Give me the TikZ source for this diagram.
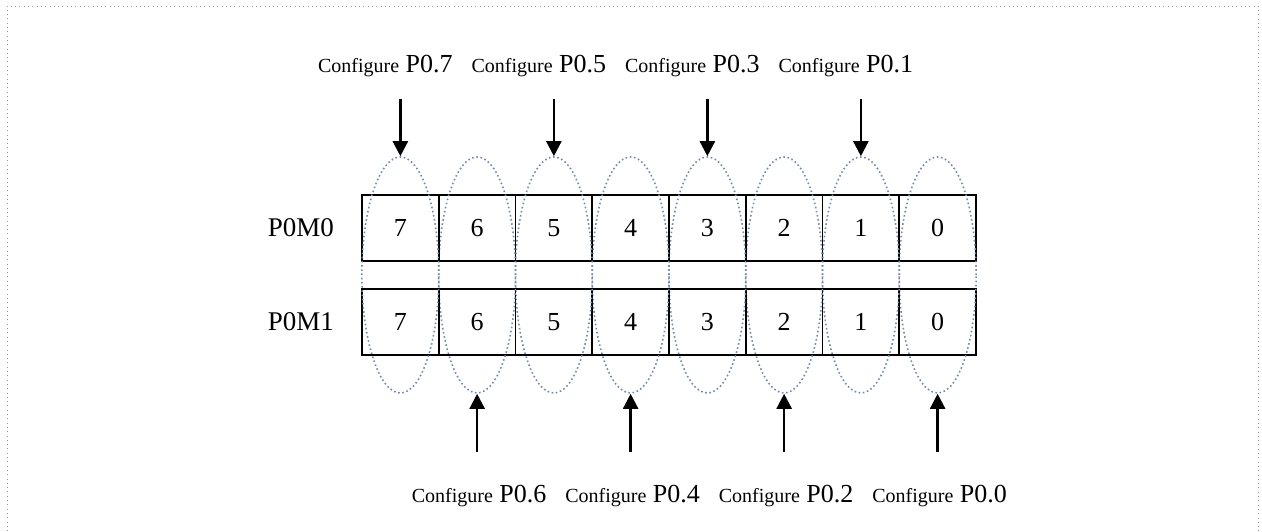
\documentclass[tikz,border=0pt]{standalone}
\usepackage{fontspec}
\setmainfont{Liberation Serif}
\usetikzlibrary{positioning, calc, shapes.geometric, arrows.meta}
\definecolor{ovalblue}{RGB}{118,138,170}

\begin{document}
\begin{tikzpicture}[x=1pt, y=-1pt,
    cell/.style={draw, line width=1.8pt, minimum width=76.75pt, minimum height=66pt,
      inner sep=0pt, font=\fontsize{26}{26}\selectfont},
    oval/.style={ellipse, draw=ovalblue, line width=1.6pt, dash pattern=on 1.6pt off 2.6pt,
      minimum width=77pt, minimum height=236pt, inner sep=0pt},
    pin/.style={line width=2.4pt, -{Triangle[length=15pt, width=15pt]}},
    cfg/.style={inner sep=0pt, anchor=base, font=\fontsize{26}{26}\selectfont},
    reg/.style={inner sep=0pt, font=\fontsize{27}{27}\selectfont}]
  \useasboundingbox (0,0) rectangle (1262,531);
  \draw[gray!80, line width=0.9pt, dash pattern=on 0.9pt off 3.4pt]
    (7,531) -- (7,6) -- (1258,6) -- (1258,531);

  % register bits and the ovals round each column
  \foreach \i in {0,...,7} {
    \pgfmathsetmacro\cx{362+76.75*(7-\i)+38.375}
    \node[cell] (a\i) at (\cx,228) {\i};
    \node[cell] (b\i) at (\cx,322) {\i};
    \node[oval] (e\i) at (\cx,275) {};
  }
  \node[reg, left=27pt of a7] (m0) {P0M0};
  \node[reg, left=27pt of b7] (m1) {P0M1};

  % odd bits from above
  \foreach \i in {7,5,3,1} {
    \coordinate (t\i) at ($(e\i.north)+(0,-57)$);
    \draw[pin] (t\i) -- (e\i.north);
    \node[cfg] (l\i) at ($(t\i)+(-15,-27)$) {{\fontsize{20}{20}\selectfont Configure} P0.\i};
  }
  % even bits from below
  \foreach \i in {6,4,2,0} {
    \coordinate (s\i) at ($(e\i.south)+(0,58)$);
    \draw[pin] (s\i) -- (e\i.south);
    \node[cfg] (l\i) at ($(s\i)+(2,51)$) {{\fontsize{20}{20}\selectfont Configure} P0.\i};
  }
\end{tikzpicture}
\end{document}
